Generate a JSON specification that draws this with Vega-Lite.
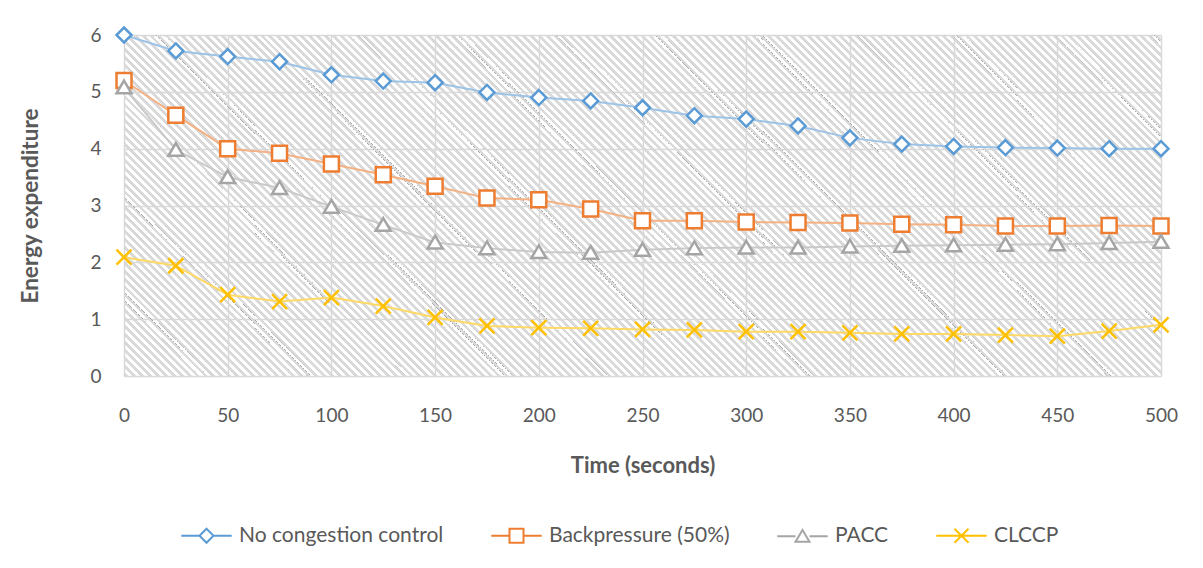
{
  "$schema": "https://vega.github.io/schema/vega-lite/v6.json",
  "width": 1037,
  "height": 341,
  "autosize": {"type": "none"},
  "padding": {"left": 124, "top": 35, "right": 42, "bottom": 192},
  "background": "white",
  "config": {"view": {"stroke": null}, "font": "Lato"},
  "data": {
    "values": [
      {"t": 0, "series": "No congestion control", "value": 6.0},
      {"t": 25, "series": "No congestion control", "value": 5.72},
      {"t": 50, "series": "No congestion control", "value": 5.62},
      {"t": 75, "series": "No congestion control", "value": 5.53},
      {"t": 100, "series": "No congestion control", "value": 5.3},
      {"t": 125, "series": "No congestion control", "value": 5.19},
      {"t": 150, "series": "No congestion control", "value": 5.16},
      {"t": 175, "series": "No congestion control", "value": 4.99},
      {"t": 200, "series": "No congestion control", "value": 4.9},
      {"t": 225, "series": "No congestion control", "value": 4.84},
      {"t": 250, "series": "No congestion control", "value": 4.72},
      {"t": 275, "series": "No congestion control", "value": 4.58},
      {"t": 300, "series": "No congestion control", "value": 4.52},
      {"t": 325, "series": "No congestion control", "value": 4.4},
      {"t": 350, "series": "No congestion control", "value": 4.19},
      {"t": 375, "series": "No congestion control", "value": 4.08},
      {"t": 400, "series": "No congestion control", "value": 4.04},
      {"t": 425, "series": "No congestion control", "value": 4.02},
      {"t": 450, "series": "No congestion control", "value": 4.01},
      {"t": 475, "series": "No congestion control", "value": 4.0},
      {"t": 500, "series": "No congestion control", "value": 4.0},
      {"t": 0, "series": "Backpressure (50%)", "value": 5.2},
      {"t": 25, "series": "Backpressure (50%)", "value": 4.59},
      {"t": 50, "series": "Backpressure (50%)", "value": 4.0},
      {"t": 75, "series": "Backpressure (50%)", "value": 3.92},
      {"t": 100, "series": "Backpressure (50%)", "value": 3.73},
      {"t": 125, "series": "Backpressure (50%)", "value": 3.54},
      {"t": 150, "series": "Backpressure (50%)", "value": 3.34},
      {"t": 175, "series": "Backpressure (50%)", "value": 3.13},
      {"t": 200, "series": "Backpressure (50%)", "value": 3.1},
      {"t": 225, "series": "Backpressure (50%)", "value": 2.94},
      {"t": 250, "series": "Backpressure (50%)", "value": 2.73},
      {"t": 275, "series": "Backpressure (50%)", "value": 2.73},
      {"t": 300, "series": "Backpressure (50%)", "value": 2.71},
      {"t": 325, "series": "Backpressure (50%)", "value": 2.7},
      {"t": 350, "series": "Backpressure (50%)", "value": 2.69},
      {"t": 375, "series": "Backpressure (50%)", "value": 2.67},
      {"t": 400, "series": "Backpressure (50%)", "value": 2.66},
      {"t": 425, "series": "Backpressure (50%)", "value": 2.64},
      {"t": 450, "series": "Backpressure (50%)", "value": 2.64},
      {"t": 475, "series": "Backpressure (50%)", "value": 2.65},
      {"t": 500, "series": "Backpressure (50%)", "value": 2.64},
      {"t": 0, "series": "PACC", "value": 5.08},
      {"t": 25, "series": "PACC", "value": 3.98},
      {"t": 50, "series": "PACC", "value": 3.5},
      {"t": 75, "series": "PACC", "value": 3.31},
      {"t": 100, "series": "PACC", "value": 2.98},
      {"t": 125, "series": "PACC", "value": 2.66},
      {"t": 150, "series": "PACC", "value": 2.35},
      {"t": 175, "series": "PACC", "value": 2.25},
      {"t": 200, "series": "PACC", "value": 2.18},
      {"t": 225, "series": "PACC", "value": 2.17},
      {"t": 250, "series": "PACC", "value": 2.22},
      {"t": 275, "series": "PACC", "value": 2.25},
      {"t": 300, "series": "PACC", "value": 2.26},
      {"t": 325, "series": "PACC", "value": 2.26},
      {"t": 350, "series": "PACC", "value": 2.28},
      {"t": 375, "series": "PACC", "value": 2.29},
      {"t": 400, "series": "PACC", "value": 2.3},
      {"t": 425, "series": "PACC", "value": 2.31},
      {"t": 450, "series": "PACC", "value": 2.32},
      {"t": 475, "series": "PACC", "value": 2.34},
      {"t": 500, "series": "PACC", "value": 2.36},
      {"t": 0, "series": "CLCCP", "value": 2.09},
      {"t": 25, "series": "CLCCP", "value": 1.94},
      {"t": 50, "series": "CLCCP", "value": 1.43},
      {"t": 75, "series": "CLCCP", "value": 1.31},
      {"t": 100, "series": "CLCCP", "value": 1.38},
      {"t": 125, "series": "CLCCP", "value": 1.23},
      {"t": 150, "series": "CLCCP", "value": 1.03},
      {"t": 175, "series": "CLCCP", "value": 0.88},
      {"t": 200, "series": "CLCCP", "value": 0.85},
      {"t": 225, "series": "CLCCP", "value": 0.84},
      {"t": 250, "series": "CLCCP", "value": 0.82},
      {"t": 275, "series": "CLCCP", "value": 0.81},
      {"t": 300, "series": "CLCCP", "value": 0.78},
      {"t": 325, "series": "CLCCP", "value": 0.78},
      {"t": 350, "series": "CLCCP", "value": 0.76},
      {"t": 375, "series": "CLCCP", "value": 0.74},
      {"t": 400, "series": "CLCCP", "value": 0.74},
      {"t": 425, "series": "CLCCP", "value": 0.72},
      {"t": 450, "series": "CLCCP", "value": 0.7},
      {"t": 475, "series": "CLCCP", "value": 0.79},
      {"t": 500, "series": "CLCCP", "value": 0.9}
    ]
  },
  "layer": [
    {
      "mark": {"type": "rule", "stroke": "#d9d9d9", "strokeWidth": 1400, "strokeDash": [1.8, 3.8], "strokeCap": "butt", "opacity": 0.4, "clip": true},
      "encoding": {
        "x": {"datum": -87.5, "type": "quantitative", "scale": {"domain": [0, 500], "nice": false, "zero": false},
          "axis": {"values": [0, 50, 100, 150, 200, 250, 300, 350, 400, 450, 500], "grid": true, "gridColor": "#d9d9d9", "gridWidth": 1.5, "ticks": false, "domain": false, "labelFlush": false, "labelOverlap": false, "labelFontSize": 19, "labelColor": "#595959", "labelFont": "Lato", "labelPadding": 30, "title": "Time (seconds)", "titleFont": "Lato", "titleFontSize": 22, "titleFontWeight": "bold", "titleColor": "#595959", "titleX": 518.5, "titleY": 89, "titleAlign": "center", "titleBaseline": "middle"}},
        "x2": {"datum": 587.5},
        "y": {"datum": -9.32, "type": "quantitative", "scale": {"domain": [0, 6], "nice": false, "zero": false},
          "axis": {"values": [0, 1, 2, 3, 4, 5, 6], "format": "d", "grid": true, "gridColor": "#d9d9d9", "gridWidth": 1.5, "ticks": false, "domain": false, "labelFontSize": 19, "labelColor": "#595959", "labelFont": "Lato", "labelPadding": 23, "title": "Energy expenditure", "titleFont": "Lato", "titleFontSize": 22.5, "titleFontWeight": "bold", "titleColor": "#595959", "titleX": -94, "titleY": 170.5, "titleAngle": -90, "titleAlign": "center", "titleBaseline": "middle"}},
        "y2": {"datum": 15.32}
      }
    },
    {
      "mark": {"type": "line", "strokeWidth": 2},
      "encoding": {
        "x": {"field": "t", "type": "quantitative", "title": "Time (seconds)", "scale": {"domain": [0, 500], "nice": false, "zero": false}},
        "y": {"field": "value", "type": "quantitative", "title": "Energy expenditure", "scale": {"domain": [0, 6], "nice": false, "zero": false}},
        "color": {"field": "series", "type": "nominal", "sort": null,
          "scale": {"range": ["#9DC3E6", "#F4B183", "#C9C9C9", "#FFD966"]},
          "legend": null}
      }
    },
    {
      "mark": {"type": "point", "filled": false, "fill": "white", "strokeWidth": 2.5, "size": 225, "opacity": 1},
      "encoding": {
        "x": {"field": "t", "type": "quantitative", "title": "Time (seconds)", "scale": {"domain": [0, 500], "nice": false, "zero": false}},
        "y": {"field": "value", "type": "quantitative", "title": "Energy expenditure", "scale": {"domain": [0, 6], "nice": false, "zero": false}},
        "stroke": {"field": "series", "type": "nominal",
          "scale": {"domain": ["No congestion control", "Backpressure (50%)", "PACC", "CLCCP"], "range": ["#5B9BD5", "#ED7D31", "#A5A5A5", "#FFC000"]},
          "legend": {"orient": "none", "legendX": 72, "legendY": 490, "direction": "horizontal", "title": null, "symbolSize": 196, "labelOffset": 22, "columnPadding": 43, "labelLimit": 400, "labelFontSize": 21, "labelColor": "#595959", "labelFont": "Lato", "symbolStrokeWidth": 2, "symbolFillColor": "white", "padding": 0,
            "symbolType": {"expr": "datum.value == 'No congestion control' ? 'M-3.6,0H-1M1,0H3.6M0,-1L1,0L0,1L-1,0Z' : datum.value == 'Backpressure (50%)' ? 'M-3.6,0H-1M1,0H3.6M-1,-1H1V1H-1Z' : datum.value == 'PACC' ? 'M-3.6,0H-1M1,0H3.6M0,-0.9L1,0.8H-1Z' : 'M-3.6,0H3.6M-1,-1L1,1M-1,1L1,-1'"}}},
        "shape": {"field": "series", "type": "nominal", "sort": null,
          "scale": {"range": ["M0,-1L1,0L0,1L-1,0Z", "M-1,-1H1V1H-1Z", "M0,-0.9L1,0.8H-1Z", "M-1,-1L1,1M-1,1L1,-1"]},
          "legend": null}
      }
    }
  ]
}
